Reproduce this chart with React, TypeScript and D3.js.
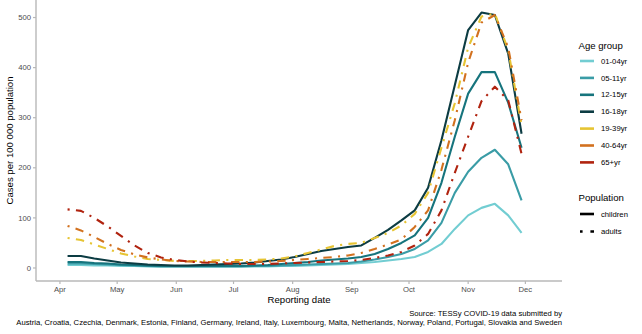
import React from "react";
import * as d3 from "d3";

const W = 642;
const H = 334;

const ageGroups = ["01-04yr", "05-11yr", "12-15yr", "16-18yr", "19-39yr", "40-64yr", "65+yr"];
const ageColors = ["#72cdd2", "#3a9ca6", "#16747d", "#0c3c43", "#e6c433", "#d2711f", "#b0230f"];
const ageIsChild = [true, true, true, true, false, false, false];

const firstWeek = Date.UTC(2020, 3, 5);
const weekCount = 35;

const v0104 = [6, 6, 5, 5, 4, 4, 3, 3, 3, 3, 3, 3, 3, 3, 3, 3, 4, 4, 5, 6, 7, 8, 10, 12, 15, 18, 22, 32, 48, 78, 105, 120, 128, 105, 70];
const v0511 = [9, 9, 8, 7, 6, 5, 4, 3, 3, 3, 3, 3, 3, 3, 4, 4, 5, 6, 7, 8, 9, 10, 13, 17, 22, 28, 38, 55, 90, 150, 192, 220, 236, 207, 135];
const v1215 = [12, 12, 10, 9, 7, 6, 5, 4, 4, 4, 4, 4, 4, 4, 5, 6, 8, 10, 12, 15, 17, 19, 22, 28, 38, 50, 65, 100, 170, 262, 348, 391, 391, 330, 240];
const v1618 = [24, 24, 19, 15, 11, 9, 7, 6, 5, 5, 6, 7, 8, 9, 11, 14, 17, 22, 28, 34, 38, 42, 45, 60, 76, 95, 115, 160, 255, 365, 475, 510, 505, 428, 268];
const v1939 = [60, 56, 47, 38, 29, 23, 18, 16, 14, 14, 14, 15, 16, 16, 16, 17, 19, 23, 30, 37, 44, 48, 50, 60, 70, 85, 108, 150, 240, 329, 440, 502, 508, 435, 285];
const v4064 = [84, 75, 62, 48, 36, 27, 21, 17, 14, 13, 12, 12, 12, 12, 12, 13, 14, 16, 18, 20, 22, 25, 30, 38, 47, 57, 82, 115, 196, 295, 410, 490, 505, 440, 295];
const v65 = [117, 114, 100, 83, 64, 45, 30, 21, 16, 13, 11, 10, 9, 8, 8, 8, 9, 10, 11, 12, 13, 14, 16, 20, 25, 32, 45, 68, 115, 190, 262, 333, 362, 335, 228];

const seriesValues = [v0104, v0511, v1215, v1618, v1939, v4064, v65];

const yTicks = [0, 100, 200, 300, 400, 500];
const xTickDates = [3, 4, 5, 6, 7, 8, 9, 10, 11].map((m) => new Date(Date.UTC(2020, m, 1)));

const captionLine1 = "Source: TESSy COVID-19 data submitted by";
const captionLine2 =
  "Austria, Croatia, Czechia, Denmark, Estonia, Finland, Germany, Ireland, Italy, Luxembourg, Malta, Netherlands, Norway, Poland, Portugal, Slovakia and Sweden";

const FONT = "'Liberation Sans', Arial, Helvetica, sans-serif";
const DOTDASH = "2.1 6.3 8.4 6.3";

export default function App() {
  const panel = { left: 36, right: 562, top: 0, bottom: 281 };
  const DAY = 86400000;
  const apr1 = Date.UTC(2020, 3, 1);
  const x = d3
    .scaleUtc()
    .domain([new Date(apr1 - 12.55 * DAY), new Date(apr1 + 263.2 * DAY)])
    .range([panel.left, panel.right]);
  const y = d3.scaleLinear().domain([-26, 535]).range([panel.bottom, panel.top]);

  const dates = d3.range(weekCount).map((i) => new Date(firstWeek + i * 7 * DAY));
  const line = d3
    .line<number>()
    .x((_, i) => x(dates[i]))
    .y((d) => y(d));

  const fmt = d3.utcFormat("%b");
  const axisColor = "#b8b8b8";
  const tickText = "#4d4d4d";

  const legendX = 578.5;
  const ageY0 = 61;
  const ageStep = 16.9;

  return (
    <svg
      width={W}
      height={H}
      style={{ position: "absolute", left: 0, top: 0, background: "#fff" }}
      fontFamily={FONT}
    >
      <rect x={0} y={0} width={W} height={H} fill="#fff" />
      {/* series */}
      <g fill="none">
        {seriesValues.map((vals, k) => (
          <path
            key={ageGroups[k]}
            d={line(vals) || ""}
            stroke={ageColors[k]}
            strokeWidth={2.1}
            strokeLinejoin="round"
            strokeDasharray={ageIsChild[k] ? undefined : DOTDASH}
          />
        ))}
      </g>
      {/* axes */}
      <line x1={panel.left} x2={panel.right} y1={panel.bottom} y2={panel.bottom} stroke={axisColor} strokeWidth={1.4} />
      <line x1={panel.left} x2={panel.left} y1={panel.top} y2={panel.bottom} stroke={axisColor} strokeWidth={1.4} />
      {yTicks.map((t) => (
        <g key={t}>
          <line x1={panel.left - 3} x2={panel.left} y1={y(t)} y2={y(t)} stroke={axisColor} strokeWidth={1.2} />
          <text x={panel.left - 5} y={y(t)} dy="0.35em" textAnchor="end" fontSize={7.7} fill={tickText}>
            {t}
          </text>
        </g>
      ))}
      {xTickDates.map((d) => (
        <g key={d.getTime()}>
          <line x1={x(d)} x2={x(d)} y1={panel.bottom} y2={panel.bottom + 3} stroke={axisColor} strokeWidth={1.2} />
          <text x={x(d)} y={panel.bottom + 10.5} textAnchor="middle" fontSize={7.7} fill={tickText}>
            {fmt(d)}
          </text>
        </g>
      ))}
      <text x={(panel.left + panel.right) / 2} y={303} textAnchor="middle" fontSize={9.6} fill="#000">
        Reporting date
      </text>
      <text
        transform={`translate(13.2,${(panel.top + panel.bottom) / 2}) rotate(-90)`}
        textAnchor="middle"
        fontSize={9.6}
        fill="#000"
      >
        Cases per 100 000 population
      </text>
      {/* legend */}
      <text x={legendX} y={48.5} fontSize={9.6} fill="#000">
        Age group
      </text>
      {ageGroups.map((g, k) => (
        <g key={g}>
          <line
            x1={580}
            x2={594}
            y1={ageY0 + k * ageStep}
            y2={ageY0 + k * ageStep}
            stroke={ageColors[k]}
            strokeWidth={2.6}
          />
          <text x={601} y={ageY0 + k * ageStep} dy="0.35em" fontSize={7.7} fill="#000">
            {g}
          </text>
        </g>
      ))}
      <text x={legendX} y={200.5} fontSize={9.6} fill="#000">
        Population
      </text>
      <line x1={580} x2={594} y1={214} y2={214} stroke="#000" strokeWidth={2.6} />
      <text x={601} y={214} dy="0.35em" fontSize={7.7} fill="#000">
        children
      </text>
      <line x1={580} x2={594} y1={231.5} y2={231.5} stroke="#000" strokeWidth={2.6} strokeDasharray="2.6 7.8 10.4 7.8" />
      <text x={601} y={231.5} dy="0.35em" fontSize={7.7} fill="#000">
        adults
      </text>
      {/* caption */}
      <text x={panel.right} y={316} textAnchor="end" fontSize={7.7} fill="#000">
        {captionLine1}
      </text>
      <text x={panel.right} y={325} textAnchor="end" fontSize={7.7} fill="#000">
        {captionLine2}
      </text>
    </svg>
  );
}
